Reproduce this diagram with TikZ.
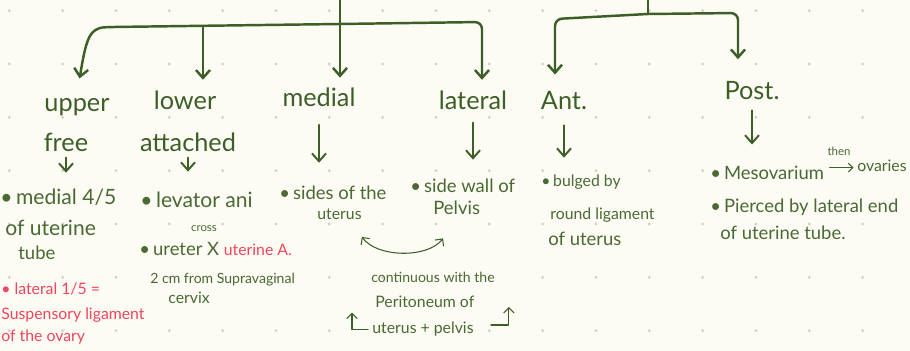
\documentclass[tikz,border=0pt]{standalone}
\usepackage{fontspec}
\setmainfont{Lato}
\usepackage{tikz}
\usetikzlibrary{arrows.meta, calc, positioning}
\definecolor{olivegreen}{rgb}{0.24, 0.37, 0.15}
\definecolor{inkgreen}{rgb}{0.29, 0.41, 0.20}
\definecolor{notepink}{rgb}{0.94, 0.27, 0.36}
\definecolor{paper}{rgb}{0.99, 0.99, 0.96}
\definecolor{dotgrey}{rgb}{0.84, 0.81, 0.77}

\tikzset{
	heading/.style={text=olivegreen, font=\fontsize{14.4}{16}\selectfont, inner sep=0pt, text height=10pt, text depth=3pt, anchor=base},
	notel/.style={text=inkgreen, font=\fontsize{12}{14}\selectfont, inner sep=0pt, text height=9pt, text depth=2.6pt, anchor=base west},
	note/.style={text=inkgreen, font=\fontsize{10.5}{12}\selectfont, inner sep=0pt, text height=8pt, text depth=2.3pt, anchor=base west},
	notes/.style={text=inkgreen, font=\fontsize{9}{11}\selectfont, inner sep=0pt, text height=7pt, text depth=2pt, anchor=base west},
	notexs/.style={text=inkgreen, font=\fontsize{8}{10}\selectfont, inner sep=0pt, text height=6pt, text depth=1.8pt, anchor=base west},
	notetiny/.style={text=inkgreen, font=\fontsize{6.5}{8}\selectfont, inner sep=0pt, anchor=base},
	branch/.style={->, olivegreen, line width=1.4pt, rounded corners=4pt},
	subarrow/.style={->, olivegreen, line width=1.1pt},
	linkarrow/.style={olivegreen, line width=0.6pt}
}

\begin{document}
\begin{tikzpicture}[x=0.02cm, y=-0.02cm, line cap=round, line join=round, >={Straight Barb[length=4.5pt,width=8pt]}]
		% paper and dot grid
		\fill[paper] (0,0) rectangle (910,351);
		\useasboundingbox (0,0) rectangle (910,351);
		\foreach \i in {0,...,16}{
			\foreach \j in {0,...,6}{
				\fill[dotgrey] ({9.33+53.33*\i},{10.67+53.33*\j}) circle (0.9pt);
			}
		}

		% headings
		\node[heading] (upper) at (77,112) {upper};
		\node[heading] (free) at (66,152) {free};
		\node[heading] (lower) at (185,110) {lower};
		\node[heading] (attached) at (188,152) {attached};
		\node[heading] (medial) at (319,107) {medial};
		\node[heading] (lateral) at (473,110) {lateral};
		\node[heading] (ant) at (564,110) {Ant.};
		\node[heading] (post) at (752,100) {Post.};

		% upper free
		\node[notel] (m45) at (0,205) {\textbullet\,medial 4/5};
		\node[notel] (ofut) at (5,236) {of uterine};
		\node[note] (tube) at (18,260) {tube};
		\node[notes, text=notepink] (lat15) at (1,295) {\textbullet\ lateral 1/5 =};
		\node[notes, text=notepink] (susp) at (1,320) {Suspensory ligament};
		\node[notes, text=notepink] (ovary) at (1,341) {of the ovary};

		% lower attached
		\node[notel] (levator) at (140,208) {\textbullet\,levator ani};
		\node[notetiny] (cross) at (204,232) {cross};
		\node[note] (ureter) at (139,256) {\textbullet\,ureter X \textcolor{notepink}{\fontsize{9}{11}\selectfont uterine A.}};
		\node[notexs] (twocm) at (150,284) {2 cm from Supravaginal};
		\node[notes] (cervix) at (168,304) {cervix};

		% medial and lateral
		\node[note] (sides) at (279,200) {\textbullet\,sides of the};
		\node[notes] (uterus) at (317,220) {uterus};
		\node[note] (sidewall) at (410,193) {\textbullet\,side wall of};
		\node[note] (pelvis) at (433,215) {Pelvis};
		\node[notexs] (cont) at (371,283) {continuous with the};
		\node[notes] (peri) at (375,308) {Peritoneum of};
		\node[notes] (utpel) at (372,334) {uterus + pelvis};

		% Ant. and Post.
		\node[notes] (bulged) at (541,187) {\textbullet\,bulged by};
		\node[notes] (round) at (550,220) {round ligament};
		\node[note] (ofuterus) at (548,246) {of uterus};
		\node[note] (meso) at (710,180) {\textbullet\,Mesovarium};
		\node[notetiny] (then) at (839,156) {then};
		\node[notes] (ovar) at (857,172) {ovaries};
		\node[note] (pierced) at (710,213) {\textbullet\,Pierced by lateral end};
		\node[note] (ofutube) at (720,240) {of uterine tube.};

		% first tree
		\coordinate (topA) at (340,0);
		\coordinate (hubA) at (340,24);
		\coordinate (bLow) at (203,26);
		\coordinate (bLat) at (482,22);
		\draw[olivegreen, line width=1.4pt] (topA) -- (hubA);
		\draw[branch, shorten >=9pt] (hubA) -- (112,27) .. controls (89,28) and (86,40) .. (upper.north);
		\draw[branch, shorten >=7pt] (bLow) -- (bLow |- lower.north);
		\draw[branch, shorten >=6.5pt] (hubA) -- (hubA |- medial.north);
		\draw[branch, shorten >=7pt] (hubA) -- (bLat) -- (bLat |- lateral.north);

		% second tree
		\coordinate (topB) at (648,0);
		\coordinate (hubB) at (648,14);
		\coordinate (bAnt) at (555,19);
		\coordinate (bPost) at (738,13);
		\draw[olivegreen, line width=1.4pt] (topB) -- (hubB);
		\draw[branch, shorten >=10pt] (hubB) -- (bAnt) -- (bAnt |- ant.north);
		\draw[branch, shorten >=13pt] (hubB) -- (bPost) -- (bPost |- post.north);

		% short arrows under headings
		\draw[subarrow, shorten >=9.2pt] (free.south) -- (free.south |- m45.north);
		\draw[subarrow, shorten >=11.5pt] (attached.south) -- (attached.south |- levator.north);
		\draw[subarrow, shorten <=7pt, shorten >=13pt] (medial.south) -- (medial.south |- sides.north);
		\draw[subarrow, shorten <=4pt, shorten >=10.8pt] (lateral.south) -- (lateral.south |- sidewall.north);
		\draw[subarrow, shorten <=5.5pt, shorten >=9.5pt] (ant.south) -- (ant.south |- bulged.north);
		\draw[subarrow, shorten <=2.7pt, shorten >=12pt] (post.south) -- (post.south |- meso.north);

		% thin links
		\draw[linkarrow, {Straight Barb[length=3pt,width=6pt]}-{Straight Barb[length=3pt,width=6pt]}] ($(uterus.south east)+(0,13)$) .. controls ($(uterus.south east)+(15,34)$) and ($(pelvis.south west)+(-5,39)$) .. ($(pelvis.south west)+(10,19)$);
		\draw[linkarrow, -{Straight Barb[length=3pt,width=6pt]}] ($(utpel.west)+(-4,0)$) -| ($(utpel.west)+(-20,-17)$);
		\draw[linkarrow, -{Straight Barb[length=3pt,width=6pt]}] ($(utpel.east)+(17,-4.6)$) -| ($(utpel.east)+(35,-22.6)$);
		\draw[linkarrow, -{Straight Barb[length=2.5pt,width=5pt]}, shorten <=3pt, shorten >=2pt] (meso.east |- ovar.west) -- (ovar.west);
\end{tikzpicture}
\end{document}
